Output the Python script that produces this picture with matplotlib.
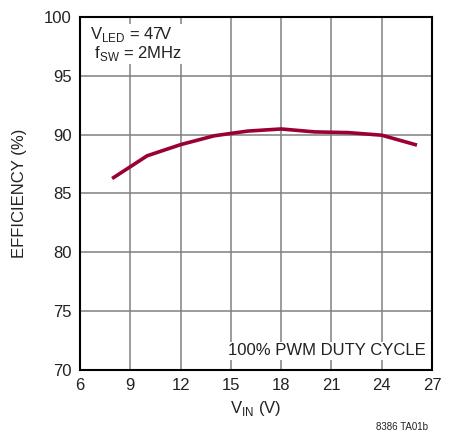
import matplotlib
matplotlib.use("Agg")
import matplotlib.pyplot as plt
from matplotlib.ticker import MultipleLocator

plt.rcParams['font.family'] = ['Liberation Sans', 'DejaVu Sans']

vin = [8, 10, 12, 14, 16, 18, 20, 22, 24, 26]
efficiency = [86.35, 88.2, 89.15, 89.9, 90.3, 90.48, 90.23, 90.17, 89.95, 89.15]

fig = plt.figure(figsize=(4.5, 4.34), dpi=100)
ax = fig.add_axes([0.178, 0.1475, 0.782, 0.8135])

ax.plot(vin, efficiency, color='#9b0034', lw=2.6, zorder=3)

ax.set_xlim(6, 27)
ax.set_ylim(70, 100)
ax.xaxis.set_major_locator(MultipleLocator(3))
ax.yaxis.set_major_locator(MultipleLocator(5))
ax.grid(True, color='#808080', lw=1.1)
ax.tick_params(length=0, labelsize=12, pad=6, colors='#222222')
for s in ax.spines.values():
    s.set_linewidth(1.5)

ax.set_xlabel('V$_{\\mathregular{IN}}$ (V)', fontsize=12, labelpad=4, color='#222222')
ax.set_ylabel('EFFICIENCY (%)', fontsize=12, labelpad=12, color='#222222')

bbox = dict(facecolor='white', edgecolor='none', pad=1)
ax.text(6.6, 99.3, 'V$_{\\mathregular{LED}}$ = 47V\n f$_{\\mathregular{SW}}$ = 2MHz', fontsize=12,
        va='top', ha='left', color='#222222', bbox=bbox, zorder=4, linespacing=1.0)
ax.text(26.6, 71.0, '100% PWM DUTY CYCLE', fontsize=12, va='bottom', ha='right',
        color='#222222', bbox=bbox, zorder=4)

fig.text(0.95, 0.004, '8386 TA01b', fontsize=7, ha='right', va='bottom', color='#222222')

fig.savefig('out.png', dpi=100)
